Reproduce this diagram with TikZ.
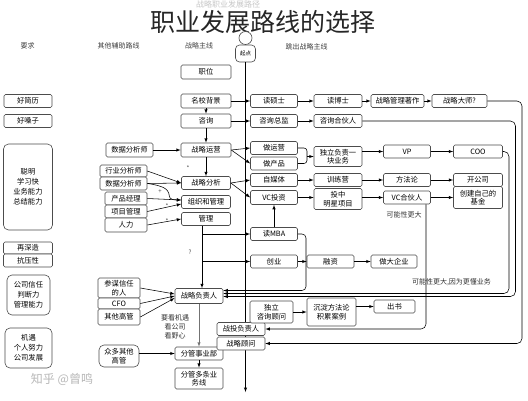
\documentclass[tikz,border=0pt]{standalone}
\usepackage{fontspec}
\setmainfont{Noto Sans CJK SC}
\usetikzlibrary{arrows}
\usetikzlibrary{positioning}

\begin{document}
\begin{tikzpicture}[x=1pt,y=-1pt,>=latex,
 box/.style={rectangle,draw=black!70,line width=0.6pt,rounded corners=1.5pt,fill=white,minimum height=13pt,inner sep=0.5pt,font=\fontsize{7.3}{8.5}\selectfont,align=center},
 grp/.style={box,rounded corners=5pt,font=\fontsize{7.3}{10}\selectfont},
 head/.style={font=\fontsize{7}{8}\selectfont,text=black!75},
 note/.style={font=\fontsize{7}{9}\selectfont,align=center,text=black!80},
 starmark/.style={font=\fontsize{6}{6}\selectfont,text=black!70},
 lk/.style={->,line width=0.55pt}]
\path[fill=white,use as bounding box] (0,0) rectangle (528,400);
\node at (228,4.3)[font=\fontsize{8}{8}\selectfont,text=black!22,inner sep=0pt](ghost){战略职业发展路径};
\node at (263,21.5)[font=\fontsize{25}{25}\selectfont,text=black!85,inner sep=0pt](title){职业发展路线的选择};
\node at (27.5,46)[head](hyq){要求};
\node at (118.5,46)[head](hfz){其他辅助路线};
\node at (199,46)[head](hzx){战略主线};
\node at (306.5,47)[head](htc){跳出战略主线};
\node at (245.5,53.5)[draw=black!70,line width=0.6pt,rounded corners=4pt,fill=white,minimum width=20pt,minimum height=17pt,inner sep=0pt,font=\fontsize{5.5}{6}\selectfont](qd){起点};
\node at (245.5,38)[circle,draw=black!70,line width=0.6pt,fill=white,minimum size=13pt,inner sep=0pt](qdt){};
\coordinate (spe) at (245.5,392);
\draw[lk] (qd) -- (spe);

\node at (28,101)[box,minimum width=48pt](hjl){好简历};
\node at (28,121)[box,minimum width=48pt](hsz){好嗓子};
\node at (28,187)[grp,minimum width=49pt,minimum height=86pt](nl){聪明\\学习快\\业务能力\\总结能力};
\node at (28,248)[box,minimum width=49pt,minimum height=12pt](zsz){再深造};
\node at (28,260.5)[box,minimum width=49pt,minimum height=13pt](kyx){抗压性};
\node at (28.5,295)[grp,minimum width=43pt,minimum height=40pt](gsxr){公司信任\\判断力\\管理能力};
\node at (28.5,348)[grp,minimum width=47pt,minimum height=40pt](jy){机遇\\个人努力\\公司发展};

\node at (206,72)[box,minimum width=50pt,minimum height=14pt](zw){职位};
\node at (206,101)[box,minimum width=50pt,minimum height=14pt](mxbj){名校背景};
\node at (206,121)[box,minimum width=50pt,minimum height=14pt](zx){咨询};
\node at (206,150)[box,minimum width=50pt,minimum height=14pt](zlyy){战略运营};
\node at (206,183)[box,minimum width=49pt](zlfx){战略分析};
\node at (206,202)[box,minimum width=49pt](zzgl){组织和管理};
\node at (206,219)[box,minimum width=49pt](gl){管理};
\node at (199,296)[box,minimum width=48pt,minimum height=15pt](zlfzr){战略负责人};
\node at (199,353.5)[box,minimum width=48pt](fgsyb){分管事业部};
\node at (199,378.5)[box,minimum width=48pt,minimum height=21pt](fgdt){分管多条业\\务线};
\node at (175,327)[note](kjy){要看机遇\\看公司\\看野心};
\node at (241,329)[box,minimum width=48pt](ztfz){战投负责人};
\node at (241,343.5)[box,minimum width=48pt](zlgw){战略顾问};

\node at (129.5,150)[box,minimum width=47pt,minimum height=14pt](sjfx){数据分析师};
\node at (123.5,171)[box,minimum width=47pt,minimum height=12pt](hyfx){行业分析师};
\node at (123.5,183.5)[box,minimum width=47pt](cwfx){数据分析师};
\node at (126,198.5)[box,minimum width=42pt](cpjl){产品经理};
\node at (126,211.5)[box,minimum width=42pt](xmgl){项目管理};
\node at (126,225)[box,minimum width=42pt,minimum height=14pt](rl){人力};
\node at (119,288)[box,minimum width=42pt,minimum height=20pt](cmxr){参谋信任\\的人};
\node at (119,303.5)[box,minimum width=42pt,minimum height=11pt](cfo){CFO};
\node at (119,317)[box,minimum width=42pt,minimum height=16pt](qtgg){其他高管};
\node at (119,356)[grp,minimum width=40pt,minimum height=22pt,font=\fontsize{7.3}{8.5}\selectfont](zdqt){众多其他\\高管};

\node at (274,101)[box,minimum width=47pt](dss){读硕士};
\node at (274,121)[box,minimum width=47pt](zxzj){咨询总监};
\node at (274,148)[box,minimum width=47pt](dyy){做运营};
\node at (274,163.5)[box,minimum width=47pt](dcp){做产品};
\node at (274,180)[box,minimum width=47pt](zmt){自媒体};
\node at (274,197.5)[box,minimum width=47pt,minimum height=14pt](vctz){VC投资};
\node at (274,234)[box,minimum width=47pt](dmba){读MBA};
\node at (274,261.5)[box,minimum width=47pt](cy){创业};

\node at (338,101)[box,minimum width=48pt](dbs){读博士};
\node at (338,121)[box,minimum width=48pt](zxhhr){咨询合伙人};
\node at (338,156.5)[box,minimum width=48pt,minimum height=20pt](dlfz){独立负责一\\块业务};
\node at (338,180)[box,minimum width=48pt](xly){训练营};
\node at (338,199)[box,minimum width=48pt,minimum height=21pt](tzmx){投中\\明星项目};
\node at (330.5,261.5)[box,minimum width=47pt](rz){融资};
\node at (271.5,312)[box,minimum width=43pt,minimum height=22pt](dlzx){独立\\咨询顾问};
\node at (331.5,312)[box,minimum width=49pt,minimum height=28pt](cdff){沉淀方法论\\积累案例};

\node at (397.5,101)[box,minimum width=53pt](zlzz){战略管理著作};
\node at (407,151.5)[box,minimum width=47pt](vp){VP};
\node at (407,180)[box,minimum width=47pt](ffl){方法论};
\node at (407,197.5)[box,minimum width=47pt](vchhr){VC合伙人};
\node at (404,215)[note](knx){可能性更大};
\node at (394,261.5)[box,minimum width=46pt](zdqy){做大企业};
\node at (394.5,306.5)[box,minimum width=41pt](cs){出书};

\node at (459.5,101)[box,minimum width=55pt](zlds){战略大师?};
\node at (478,151.5)[box,minimum width=49pt](coo){COO};
\node at (478,180)[box,minimum width=49pt](kgs){开公司};
\node at (478,197.5)[box,minimum width=49pt,minimum height=22pt](cjjj){创建自己的\\基金};
\node at (451.5,282)[note](kndd){可能性更大,因为更懂业务};

\node at (188,168)[starmark](s1){*};
\node at (160,192)[starmark](s2){+};
\node at (167,206)[starmark](s3){*};
\node at (167,221)[starmark](s4){*};
\node at (190,252)[starmark](s5){?};
\node at (62,379)[font=\fontsize{12}{12}\selectfont,text=black!28](wm){知乎 @曾鸣};

\draw[lk] (mxbj) -- (zx);
\draw[lk] (zx) -- (zlyy);
\draw[lk] (zlyy) -- (zlfx);
\draw[lk] (mxbj) -- (dss);
\draw[lk] (zx) -- (zxzj);
\draw[lk] (zlyy.east) -- (dyy.west);
\draw[lk] (zlyy.east) -- (dcp.west);
\draw[lk] (zlfx.east) -- (zmt.west);
\draw[lk] (zlfx.east) -- (vctz.west);
\draw[lk] (sjfx) -- (zlyy);
\draw[lk] (hyfx.east) -- (zlfx.west);
\draw[lk] (cwfx.east) -- (zlfx.west);
\draw[lk] (cwfx.east) .. controls (182,188) and (160,200) .. ([yshift=2pt]zzgl.west);
\draw[lk] (cpjl.east) -- ([yshift=2pt]zzgl.west);
\draw[lk] (xmgl.east) -- ([yshift=-2pt]zzgl.west);
\draw[lk] (rl.east) -- (gl.west);
\draw[lk] ([xshift=-4pt]gl.south) -- ([xshift=-4pt]gl.south |- zlfzr.north);
\coordinate (m1) at (202,234);
\coordinate (m2) at (202,261.5);
\draw[lk] (m1) -- (dmba.west);
\draw[lk] (m2) -- (cy.west);
\draw[lk] (dmba) -- (vctz);
\draw[lk] (dss) -- (dbs);
\draw[lk] (dbs) -- (zlzz);
\draw[lk] (zlzz) -- (zlds);
\draw[lk] (zxzj) -- (zxhhr);
\coordinate (br) at (307,156.5);
\draw[line width=0.55pt,rounded corners=3pt] (dyy.east) -| (br) |- (dcp.east);
\draw[lk] (br) -- (dlfz.west);
\draw[lk] (dlfz.east |- vp) -- (vp.west);
\draw[lk] (vp) -- (coo);
\draw[lk] (zmt) -- (xly);
\draw[lk] (xly) -- (ffl);
\draw[lk] (ffl) -- (kgs);
\draw[lk] (vctz.east) -- (vctz.east -| tzmx.west);
\draw[lk] (tzmx.east |- vchhr) -- (vchhr.west);
\draw[lk] (vchhr) -- (cjjj);
\draw[lk] (cy) -- (rz);
\draw[lk] (rz) -- (zdqy);
\draw[lk] (dlzx) -- (cdff);
\draw[lk] (cdff.east |- cs) -- (cs.west);
\coordinate (r1) at (306,290.5);
\draw[lk,rounded corners=4pt] (dmba.east) -| (r1) -- (r1 -| zlfzr.east);
\coordinate (r2) at (509,293.5);
\draw[lk,rounded corners=5pt] (coo.east) -| (r2) -- (r2 -| zlfzr.east);
\coordinate (r3) at (515.5,296.5);
\draw[lk,rounded corners=5pt] (zxhhr.east) -| (r3) -- (r3 -| zlfzr.east);
\coordinate (r4) at (426,329);
\draw[lk,rounded corners=5pt] (vchhr.south -| r4) |- (ztfz.east);
\coordinate (r5) at (522,343.5);
\draw[lk,rounded corners=5pt] (zlds.east) -| (r5) -- (r5 -| zlgw.east);
\draw[lk] (cmxr.east) -- ([yshift=2pt]zlfzr.west);
\draw[lk] (cfo.east) -- (zlfzr.west);
\draw[lk] (qtgg.east) -- ([yshift=-2pt]zlfzr.west);
\draw[lk] (zdqt.east |- fgsyb) -- (fgsyb.west);
\draw[lk,black!55] (zlfzr) -- (fgsyb);
\draw[lk] (fgsyb) -- (fgdt);
\end{tikzpicture}
\end{document}
